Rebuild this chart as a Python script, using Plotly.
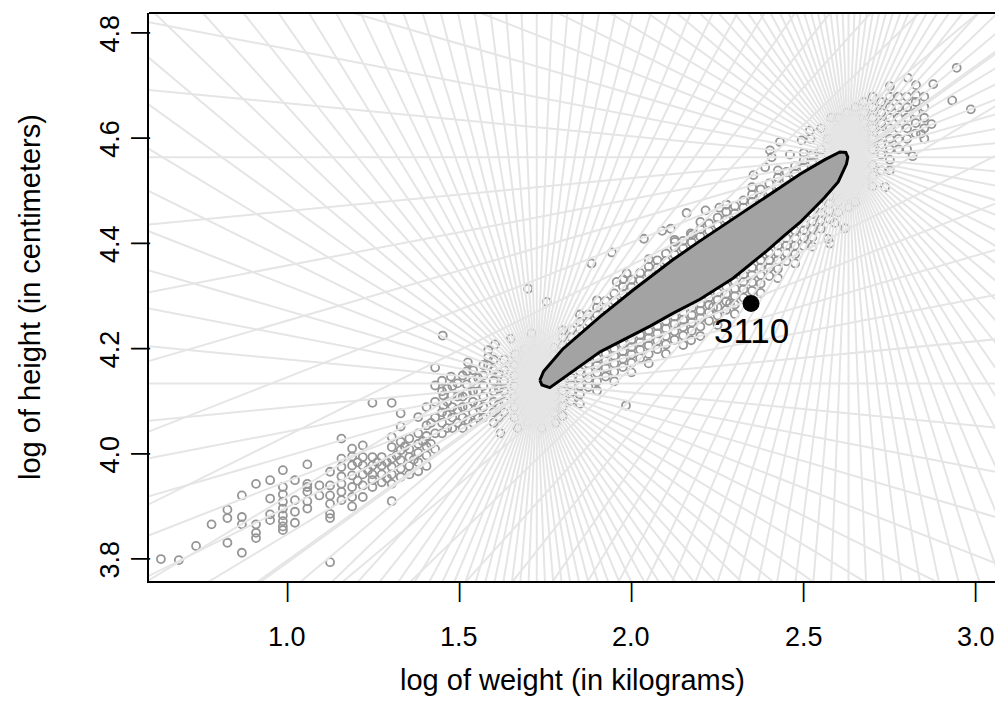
import plotly.graph_objects as go
import math

# ---------------- data ----------------
# left tail of the cloud
tail_pts = [
    (0.634,3.801),(0.686,3.799),(0.736,3.826),(0.781,3.867),(0.827,3.895),(0.827,3.879),(0.827,3.832),
    (0.869,3.922),(0.869,3.881),(0.869,3.867),(0.869,3.813),(0.910,3.944),(0.910,3.867),(0.910,3.851),
    (0.910,3.841),(0.951,3.951),(0.951,3.916),(0.951,3.886),(0.951,3.875),(0.988,3.970),(0.988,3.938),
    (0.988,3.924),(0.988,3.910),(0.988,3.897),(0.988,3.884),(0.988,3.873),(0.988,3.863),(0.988,3.856),
    (1.023,3.951),(1.023,3.913),(1.023,3.891),(1.023,3.870),(1.059,3.981),(1.059,3.944),(1.059,3.938),
    (1.059,3.929),(1.059,3.911),(1.059,3.897),(1.094,3.941),(1.094,3.922),(1.125,3.967),(1.125,3.941),
    (1.125,3.922),(1.125,3.906),(1.125,3.887),(1.125,3.879),(1.125,3.795),(1.158,4.030),(1.158,3.992),
    (1.158,3.976),(1.158,3.958),(1.158,3.944),(1.158,3.929),(1.158,3.913),(1.189,4.011),(1.189,3.996),
    (1.189,3.979),(1.189,3.960),(1.189,3.938),(1.189,3.919),(1.189,3.901),(1.220,4.017),(1.220,3.995),
    (1.220,3.979),(1.220,3.962),(1.220,3.941),(1.220,3.919),(1.248,4.098),(1.304,4.098),(1.248,3.995),
    (1.248,3.979),(1.248,3.962),(1.248,3.951),(1.248,3.938),(1.275,3.995),(1.275,3.979),(1.275,3.962),
    (1.275,3.947),(1.304,4.033),(1.304,4.014),(1.304,3.992),(1.304,3.976),(1.304,3.962),(1.304,3.944),
    (1.304,3.911),(1.330,4.078),(1.330,4.053),(1.330,4.024),(1.330,4.008),(1.330,3.989),(1.330,3.973),
    (1.330,3.957),(1.355,4.030),(1.355,4.010),(1.355,3.995),(1.355,3.978),(1.355,3.962),(1.381,4.071),
    (1.381,4.040),(1.381,4.020),(1.381,4.003),(1.381,3.985),(1.381,3.968),(1.405,4.090),(1.405,4.055),
    (1.405,4.035),(1.405,4.015),(1.405,3.998),(1.405,3.978),(1.430,4.165),(1.430,4.131),(1.430,4.100),
    (1.430,4.070),(1.430,4.040),(1.430,4.010),
    (1.205,3.985),(1.205,3.950),(1.235,3.970),(1.262,3.985),(1.290,3.955),(1.290,3.985),(1.318,3.998),
    (1.342,4.015),(1.368,3.990),(1.394,4.025),(1.418,4.060),(1.418,4.020),
]

# cluster around the lower end of the central region
lower_cluster_pts = [
    (1.452,4.226),(1.604,4.209),(1.584,4.198),(1.584,4.185),(1.584,4.169),(1.662,4.190),(1.476,4.148),
    (1.522,4.158),(1.522,4.133),(1.522,4.116),(1.454,4.112),(1.478,4.112),(1.454,4.093),
    (1.45,4.04),(1.45,4.06),(1.45,4.08),(1.45,4.12),(1.45,4.14),
    (1.465,4.05),(1.465,4.075),(1.465,4.10),(1.465,4.125),
    (1.48,4.05),(1.48,4.07),(1.48,4.09),(1.48,4.13),
    (1.495,4.06),(1.495,4.085),(1.495,4.11),(1.495,4.135),
    (1.51,4.05),(1.51,4.07),(1.51,4.09),(1.51,4.11),(1.51,4.15),
    (1.525,4.065),(1.525,4.09),(1.525,4.175),
    (1.54,4.06),(1.54,4.08),(1.54,4.10),(1.54,4.12),(1.54,4.14),(1.54,4.16),
    (1.555,4.07),(1.555,4.095),(1.555,4.12),(1.555,4.145),
    (1.57,4.07),(1.57,4.09),(1.57,4.11),(1.57,4.13),(1.57,4.15),(1.57,4.17),
    (1.60,4.06),(1.60,4.08),(1.60,4.10),(1.60,4.12),(1.60,4.14),(1.60,4.16),(1.60,4.18),
    (1.615,4.07),(1.615,4.095),(1.615,4.125),(1.615,4.155),
    (1.63,4.08),(1.63,4.10),(1.63,4.12),(1.63,4.14),(1.63,4.16),(1.63,4.18),
    (1.66,4.07),(1.66,4.09),(1.66,4.11),(1.66,4.13),(1.66,4.15),(1.66,4.17),
    (1.69,4.08),(1.69,4.10),(1.69,4.12),(1.69,4.14),(1.69,4.16),(1.69,4.18),(1.69,4.20),
    (1.72,4.08),(1.72,4.10),(1.72,4.12),(1.72,4.16),(1.72,4.18),(1.72,4.20),
    (1.75,4.08),(1.75,4.10),(1.75,4.12),(1.78,4.06),(1.78,4.09),(1.984,4.093),
    (1.62,4.04),(1.67,4.05),(1.70,4.06),(1.74,4.05),(1.65,4.22),(1.71,4.23),
]

# points just below the central region
below_pts = [
    (1.775,4.123),(1.775,4.109),(1.775,4.095),(1.775,4.079),
    (1.800,4.135),(1.800,4.121),(1.800,4.107),(1.800,4.091),(1.800,4.073),
    (1.825,4.146),(1.825,4.132),(1.825,4.118),(1.825,4.102),
    (1.850,4.158),(1.850,4.144),(1.850,4.130),(1.850,4.114),(1.850,4.096),
    (1.875,4.172),(1.875,4.158),(1.875,4.144),(1.875,4.128),
    (1.900,4.183),(1.900,4.169),(1.900,4.155),(1.900,4.139),(1.900,4.121),
    (1.925,4.192),(1.925,4.178),(1.925,4.164),(1.925,4.148),
    (1.950,4.201),(1.950,4.187),(1.950,4.173),(1.950,4.157),(1.950,4.139),
    (1.975,4.210),(1.975,4.196),(1.975,4.182),(1.975,4.166),
    (2.000,4.218),(2.000,4.204),(2.000,4.190),(2.000,4.174),(2.000,4.156),
    (2.025,4.227),(2.025,4.213),(2.025,4.199),(2.025,4.183),
    (2.050,4.235),(2.050,4.221),(2.050,4.207),(2.050,4.191),(2.050,4.173),
    (2.075,4.244),(2.075,4.230),(2.075,4.216),(2.075,4.200),
    (2.100,4.253),(2.100,4.239),(2.100,4.225),(2.100,4.209),(2.100,4.191),
    (2.125,4.262),(2.125,4.248),(2.125,4.234),(2.125,4.218),
    (2.150,4.270),(2.150,4.256),(2.150,4.242),(2.150,4.226),(2.150,4.208),
    (2.175,4.279),(2.175,4.265),(2.175,4.251),(2.175,4.235),
    (2.200,4.287),(2.200,4.273),(2.200,4.259),(2.200,4.243),(2.200,4.225),
    (2.225,4.298),(2.225,4.284),(2.225,4.270),(2.225,4.254),
    (2.250,4.308),(2.250,4.294),(2.250,4.280),(2.250,4.264),(2.250,4.246),
    (2.275,4.319),(2.275,4.305),(2.275,4.291),(2.275,4.275),
    (2.300,4.329),(2.300,4.315),(2.300,4.301),(2.300,4.285),(2.300,4.267),
    (2.325,4.342),(2.325,4.328),(2.325,4.314),(2.325,4.298),
    (2.350,4.355),(2.350,4.341),(2.350,4.327),(2.350,4.311),
    (2.375,4.369),(2.375,4.355),(2.375,4.341),(2.375,4.325),(2.375,4.307),
    (2.400,4.383),(2.400,4.369),(2.400,4.355),(2.400,4.339),
    (2.425,4.397),(2.425,4.383),(2.425,4.369),(2.425,4.353),(2.425,4.335),
    (2.450,4.411),(2.450,4.397),(2.450,4.383),(2.450,4.367),
    (2.475,4.425),(2.475,4.411),(2.475,4.397),(2.475,4.381),(2.475,4.363),
    (2.500,4.440),(2.500,4.426),(2.500,4.412),(2.500,4.396),
    (2.525,4.457),(2.525,4.443),(2.525,4.429),(2.525,4.413),(2.525,4.395),
    (2.550,4.473),(2.550,4.459),(2.550,4.445),(2.550,4.429),
    (2.575,4.491),(2.575,4.477),(2.575,4.463),(2.575,4.447),
    (2.173,4.217),(2.286,4.287),(2.237,4.280),(2.576,4.401),
]

# points just above the central region
above_pts = [
    (1.775,4.189),(1.775,4.203),(1.800,4.208),(1.800,4.222),(1.800,4.236),
    (1.825,4.223),(1.825,4.237),(1.850,4.238),(1.850,4.252),(1.850,4.266),
    (1.875,4.252),(1.875,4.266),(1.900,4.265),(1.900,4.279),(1.900,4.293),
    (1.925,4.278),(1.925,4.292),(1.950,4.292),(1.950,4.306),
    (1.975,4.305),(1.975,4.319),(1.975,4.333),(2.000,4.318),(2.000,4.332),
    (2.025,4.331),(2.025,4.345),(2.050,4.343),(2.050,4.357),(2.050,4.371),
    (2.075,4.355),(2.075,4.369),(2.100,4.368),(2.100,4.382),
    (2.125,4.380),(2.125,4.394),(2.125,4.408),(2.150,4.392),(2.150,4.406),
    (2.175,4.403),(2.175,4.417),(2.200,4.414),(2.200,4.428),(2.200,4.442),
    (2.225,4.425),(2.225,4.439),(2.250,4.436),(2.250,4.450),
    (2.275,4.447),(2.275,4.461),(2.275,4.475),(2.300,4.458),(2.300,4.472),
    (2.325,4.469),(2.325,4.483),(2.350,4.480),(2.350,4.494),(2.350,4.508),
    (2.375,4.490),(2.375,4.504),(2.400,4.501),(2.400,4.515),
    (2.425,4.512),(2.425,4.526),(2.425,4.540),(2.450,4.523),(2.450,4.537),
    (2.475,4.534),(2.475,4.548),(2.500,4.545),(2.500,4.559),(2.500,4.573),
    (2.525,4.555),(2.525,4.569),(2.550,4.565),(2.550,4.579),
    (1.700,4.315),(1.754,4.290),(1.884,4.363),(1.943,4.384),(2.036,4.410),(2.089,4.425),
    (2.114,4.429),(2.126,4.404),(2.160,4.459),(2.172,4.420),(2.215,4.464),(2.255,4.469),
    (2.276,4.475),(1.957,4.328),(1.986,4.344),(2.431,4.594),(2.402,4.578),(2.407,4.565),
    (2.388,4.546),(2.354,4.531),(2.494,4.597),(2.518,4.616),
]

# cluster around the upper end
upper_cluster_pts = [
    (2.60,4.60),(2.60,4.62),(2.60,4.64),(2.60,4.52),(2.60,4.50),(2.60,4.48),(2.60,4.46),
    (2.625,4.59),(2.625,4.61),(2.625,4.63),(2.625,4.65),(2.625,4.53),(2.625,4.49),
    (2.65,4.60),(2.65,4.62),(2.65,4.64),(2.65,4.66),(2.65,4.54),(2.65,4.52),(2.65,4.50),(2.65,4.48),
    (2.675,4.59),(2.675,4.61),(2.675,4.63),(2.675,4.65),(2.675,4.67),(2.675,4.55),(2.675,4.52),
    (2.70,4.58),(2.70,4.60),(2.70,4.62),(2.70,4.64),(2.70,4.66),(2.70,4.68),(2.70,4.55),(2.70,4.53),(2.70,4.51),
    (2.725,4.59),(2.725,4.61),(2.725,4.63),(2.725,4.65),(2.725,4.67),(2.725,4.57),(2.725,4.54),
    (2.75,4.58),(2.75,4.60),(2.75,4.62),(2.75,4.64),(2.75,4.66),(2.75,4.68),(2.75,4.70),(2.75,4.56),(2.75,4.54),
    (2.775,4.60),(2.775,4.62),(2.775,4.64),(2.775,4.66),(2.775,4.68),(2.775,4.58),
    (2.80,4.60),(2.80,4.62),(2.80,4.64),(2.80,4.66),(2.80,4.68),(2.80,4.58),
    (2.825,4.61),(2.825,4.63),(2.825,4.65),(2.825,4.67),
    (2.85,4.62),(2.85,4.64),(2.85,4.66),(2.85,4.68),(2.85,4.60),
    (2.944,4.735),(2.876,4.704),(2.802,4.716),(2.826,4.702),(2.931,4.673),(2.985,4.656),
    (2.871,4.628),(2.816,4.567),(2.826,4.683),(2.840,4.610),(2.736,4.508),
    (2.57,4.41),(2.59,4.44),(2.62,4.43),(2.63,4.47),
    (2.55,4.62),(2.58,4.64),(2.52,4.60),(2.57,4.60),(2.59,4.58),(2.46,4.57),
]

# depth-region outline
region_x = [1.734,1.745,1.800,1.909,2.004,2.120,2.197,2.295,2.393,2.490,2.560,2.605,2.622,2.628,
            2.624,2.600,2.560,2.489,2.440,2.393,2.295,2.199,2.120,2.054,1.909,1.800,1.763,1.740,1.734]
region_y = [4.141,4.158,4.200,4.262,4.312,4.370,4.405,4.448,4.490,4.533,4.560,4.575,4.574,4.565,
            4.552,4.518,4.488,4.441,4.414,4.387,4.335,4.295,4.268,4.244,4.195,4.143,4.127,4.132,4.141]

# ray centres (two focal points) and directions
focus_x = [1.725, 2.630]
focus_y = [4.135, 4.565]
ray_angles_deg = [3.6 * k for k in range(50)]

# flagged observation
flag_x = [2.347]
flag_y = [4.287]
flag_label = ["3110"]

x_ticks = [1.0, 1.5, 2.0, 2.5, 3.0]
x_ticklabels = ["1.0", "1.5", "2.0", "2.5", "3.0"]
y_ticks = [3.8, 4.0, 4.2, 4.4, 4.6, 4.8]
y_ticklabels = ["3.8", "4.0", "4.2", "4.4", "4.6", "4.8"]

X_RANGE = [0.5994, 3.0552]
Y_RANGE = [3.7593, 4.8392]

FONT = "Liberation Sans"

# ---------------- figure ----------------
all_pts = tail_pts + lower_cluster_pts + below_pts + above_pts + upper_cluster_pts
px_ = [p[0] for p in all_pts]
py_ = [p[1] for p in all_pts]

fig = go.Figure()

fig.add_trace(go.Scatter(
    x=px_, y=py_, mode="markers",
    marker=dict(symbol="circle-open", size=8, color="#969696", line=dict(width=1.8, color="#969696")),
    hoverinfo="skip", showlegend=False))

L = 6.0
rx, ry = [], []
for fx, fy in zip(focus_x, focus_y):
    for a in ray_angles_deg:
        t = math.radians(a)
        dx, dy = math.cos(t), math.sin(t)
        rx += [fx - L * dx, fx + L * dx, None]
        ry += [fy - L * dy, fy + L * dy, None]
fig.add_trace(go.Scatter(x=rx, y=ry, mode="lines",
                         line=dict(color="#e5e5e5", width=2),
                         hoverinfo="skip", showlegend=False))

fig.add_trace(go.Scatter(x=region_x, y=region_y, mode="lines", fill="toself",
                         fillcolor="#a3a3a3", line=dict(color="black", width=3),
                         hoverinfo="skip", showlegend=False))

fig.add_trace(go.Scatter(x=flag_x, y=flag_y, mode="markers",
                         marker=dict(size=17, color="black"),
                         hoverinfo="skip", showlegend=False))

fig.add_annotation(x=flag_x[0], y=flag_y[0], text=flag_label[0], showarrow=False,
                   yshift=-27, yanchor="middle",
                   font=dict(size=35, color="black", family=FONT))

# outside tick marks (drawn as bar glyphs) and tick labels
for v, s in zip(x_ticks, x_ticklabels):
    fig.add_annotation(x=v, xref="x", y=0, yref="paper", yshift=-10, text="|",
                       showarrow=False, xanchor="center", yanchor="middle",
                       font=dict(size=20, color="black", family=FONT))
    fig.add_annotation(x=v, xref="x", y=0, yref="paper", yshift=-56, text=s,
                       showarrow=False, xanchor="center", yanchor="middle",
                       font=dict(size=27, color="black", family=FONT))
for v, s in zip(y_ticks, y_ticklabels):
    fig.add_annotation(x=0, xref="paper", y=v, yref="y", xshift=-10, text="|",
                       showarrow=False, textangle=-90, xanchor="center", yanchor="middle",
                       font=dict(size=20, color="black", family=FONT))
    fig.add_annotation(x=0, xref="paper", y=v, yref="y", xshift=-39, text=s,
                       showarrow=False, textangle=-90, xanchor="center", yanchor="middle",
                       font=dict(size=27, color="black", family=FONT))

fig.add_annotation(xref="paper", yref="paper", x=0.5, y=0, yshift=-99,
                   text="log of weight (in kilograms)", showarrow=False,
                   yanchor="middle", xanchor="center",
                   font=dict(size=29, color="black", family=FONT))
fig.add_annotation(xref="paper", yref="paper", x=0, y=0.5, xshift=-119,
                   text="log of height (in centimeters)", showarrow=False, textangle=-90,
                   yanchor="middle", xanchor="center",
                   font=dict(size=29, color="black", family=FONT))

fig.add_shape(type="line", xref="paper", yref="paper", x0=0, x1=1, y0=1, y1=1,
              line=dict(color="black", width=2))

fig.update_xaxes(range=X_RANGE, showticklabels=False, ticks="",
                 showline=True, linecolor="black", linewidth=2, showgrid=False, zeroline=False)
fig.update_yaxes(range=Y_RANGE, showticklabels=False, ticks="",
                 showline=True, linecolor="black", linewidth=2, showgrid=False, zeroline=False)

fig.update_layout(width=995, height=724, margin=dict(l=149, r=0, t=13, b=143),
                  plot_bgcolor="white", paper_bgcolor="white")

fig.write_html("out.html")
